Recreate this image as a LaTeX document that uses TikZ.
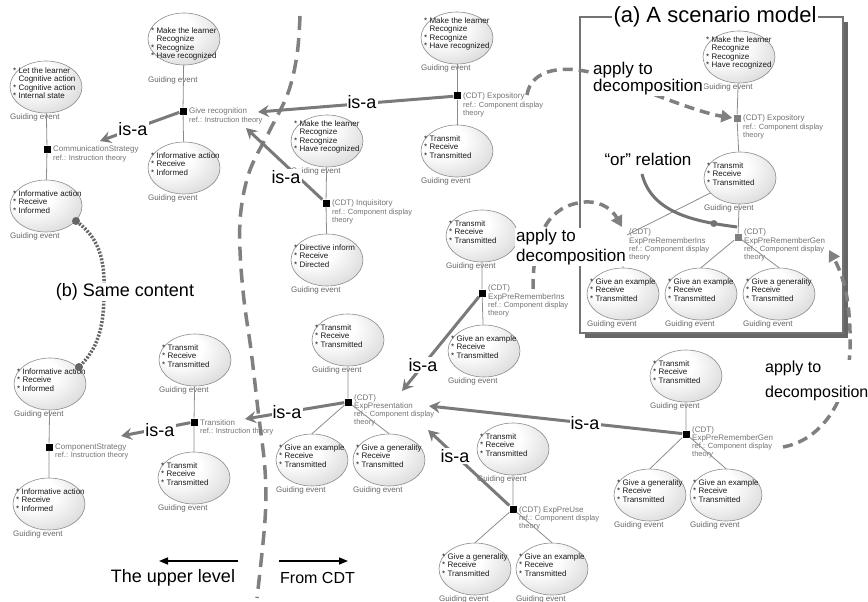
\documentclass[tikz,border=0pt]{standalone}
\usepackage{fontspec}
\setmainfont{Liberation Sans}
\usetikzlibrary{arrows.meta,calc,shapes.geometric}
\colorlet{evtdark}{black!23}
\pgfdeclareradialshading{evtshade}{\pgfpoint{-14bp}{14bp}}{color(0bp)=(white); color(16bp)=(white); color(50bp)=(evtdark); color(80bp)=(evtdark)}
\newcommand\reff{\fontsize{7.5}{8}\selectfont}
\newcommand\mkevt[4]{%
  \node[evtell] (#1) at (#2,#3) {};
  \node[evttxt,anchor=west] (#1t) at ($(#1.center)+(-33,-4)$) {#4};
  \node[guid,anchor=west] (#1g) at ($(#1.center)+(-36,30)$) {Guiding event};}
\newcommand\mksq[6]{%
  \node[#2] (#1) at (#3,#4) {};
  \node[sqlab,anchor=north west] (#1l) at ($(#1.center)+(6,#5)$) {#6};}
\newcommand\trtxt{* Transmit\\* Receive\\* Transmitted}
\newcommand\extxt{* Give an example\\* Receive\\* Transmitted}
\newcommand\gentxt{* Give a generality\\* Receive\\* Transmitted}
\newcommand\inftxt{* Informative action\\* Receive\\* Informed}
\newcommand\mktxt{* Make the learner\\\phantom{* }Recognize\\* Recognize\\* Have recognized}
\newcommand\cdtref{{\reff ref.: Component display}\\{\reff theory}}
\newcommand\itref{{\reff ref.: Instruction theory}}
\begin{document}
\begin{tikzpicture}[x=1pt,y=-1pt,
  evtell/.style={ellipse, draw=black!45, line width=0.6pt, shade, shading=evtshade, minimum width=72pt, minimum height=52pt, inner sep=0pt},
  evttxt/.style={font=\fontsize{8}{8.3}\selectfont, text=black!90, align=left, inner sep=0pt},
  guid/.style={font=\fontsize{8}{9}\selectfont, text=black!60, inner sep=0pt},
  sqb/.style={fill=black, minimum size=7pt, inner sep=0pt},
  sqg/.style={fill=black!50, minimum size=7pt, inner sep=0pt},
  sqlab/.style={font=\fontsize{8}{8.2}\selectfont, text=black!55, align=left, inner sep=0pt},
  conn/.style={draw=black!45, line width=0.8pt},
  isa/.style={draw=black!52, line width=3pt, -{Stealth[length=11pt,width=12pt,inset=4pt]}},
  biglab/.style={font=\fontsize{18}{20}\selectfont, inner sep=1pt, fill=white},
  applab/.style={inner sep=1pt, fill=white, align=left, anchor=west},
  dsh/.style={draw=black!50, line width=3.5pt, dash pattern=on 10pt off 6pt},
  dsharr/.style={dsh, -{Triangle[length=11pt,width=12pt]}},
  divline/.style={draw=black!50, line width=3.5pt, dash pattern=on 14pt off 8pt},
  dotline/.style={draw=black!60, line width=3.5pt, dash pattern=on 2pt off 1.5pt},
  dotend/.style={circle, fill=black!60, minimum size=8pt, inner sep=0pt},
  orline/.style={draw=black!55, line width=3pt},
  blkarr/.style={draw=black, line width=1.6pt, -{Triangle[length=9pt,width=7pt]}},
]
\useasboundingbox (0,0) rectangle (868,602);

% divider
\draw[divline] plot[smooth, tension=0.6] coordinates {(300,16) (297,55) (288,93) (270,130) (250,170) (241,210) (240,250) (244,300) (251,350) (258,410) (265,470) (265,520) (257,598)};

% scenario box
\fill[black!60] (585,22) rectangle (848,338);
\filldraw[fill=white, draw=black!55, line width=1.5pt] (580,17) rectangle (843,333);
\node[font=\fontsize{22}{24}\selectfont, fill=white, inner sep=2pt] (title) at (715,17) {(a) A scenario model};

% events
\mkevt{E1}{46}{87}{* Let the learner\\\phantom{* }Cognitive action\\* Cognitive action\\* Internal state}
\mkevt{E2}{46}{206}{\inftxt}
\node[evtell] (E3) at (184,39) {};
\node[evttxt,anchor=west] (E3t) at ($(E3.center)+(-33,5)$) {\mktxt};
\node[guid,anchor=west] (E3g) at ($(E3.center)+(-36,41)$) {Guiding event};
\mkevt{E4}{184}{168}{\inftxt}
\mkevt{E5}{327}{141}{\mktxt}
\mkevt{E6}{327}{260}{* Directive inform\\* Receive\\* Directed}
\mkevt{E7}{457}{38}{\mktxt}
\mkevt{E8}{457}{151}{\trtxt}
\mkevt{E9}{482}{236}{\trtxt}
\mkevt{E10}{484}{351}{\extxt}
\mkevt{E11}{348}{340}{\trtxt}
\mkevt{E12}{312}{460}{\extxt}
\mkevt{E13}{389}{460}{\gentxt}
\mkevt{E14}{686}{376}{\trtxt}
\mkevt{E15}{650}{495}{\gentxt}
\mkevt{E16}{726}{495}{\extxt}
\mkevt{E17}{513}{449}{\trtxt}
\mkevt{E18}{475}{569}{\gentxt}
\mkevt{E19}{552}{569}{\extxt}
\mkevt{E20}{195}{360}{\trtxt}
\mkevt{E21}{194}{478}{\trtxt}
\mkevt{E22}{50}{384}{\inftxt}
\mkevt{E23}{49}{504}{\inftxt}
\mkevt{E24}{739}{57}{\mktxt}
\mkevt{E25}{740}{178}{\trtxt}
\mkevt{E26}{623}{294}{\extxt}
\mkevt{E27}{701}{294}{\extxt}
\mkevt{E28}{779}{294}{\gentxt}

% squares with labels
\mksq{S1}{sqb}{47}{149}{-3}{CommunicationStrategy\\\itref}
\mksq{S3}{sqb}{183}{111}{-3}{Give recognition\\\itref}
\mksq{S5}{sqb}{326}{203}{-3}{(CDT) Inquisitory\\\cdtref}
\mksq{S7}{sqb}{457}{96}{-3}{(CDT) Expository\\\cdtref}
\mksq{S9}{sqb}{482}{293}{-8}{(CDT)\\ExpPreRememberIns\\\cdtref}
\mksq{S11}{sqb}{348}{402}{-8}{(CDT)\\ExpPresentation\\\cdtref}
\mksq{S14}{sqb}{686}{434}{-8}{(CDT)\\ExpPreRememberGen\\\cdtref}
\mksq{S17}{sqb}{513}{509}{-3}{(CDT) ExpPreUse\\\cdtref}
\mksq{S20}{sqb}{194}{422}{-3}{Transition\\\itref}
\mksq{S22}{sqb}{49}{447}{-3}{ComponentStrategy\\\itref}
\mksq{S24}{sqg}{737}{118}{-3}{(CDT) Expository\\\cdtref}
\mksq{S25}{sqg}{623}{237}{-8}{(CDT)\\ExpPreRememberIns\\\cdtref}
\mksq{S26}{sqg}{738}{237}{-8}{(CDT)\\ExpPreRememberGen\\\cdtref}

% thin connectors
\draw[conn] (E1) -- (S1) -- (E2);
\draw[conn] (E3) -- (S3) -- (E4);
\draw[conn] (E5) -- (S5) -- (E6);
\draw[conn] (E7) -- (S7) -- (E8);
\draw[conn] (E9) -- (S9) -- (E10);
\draw[conn] (E11) -- (S11) (S11) -- (E12.north) (S11) -- (E13.north);
\draw[conn] (E14) -- (S14) (S14) -- (E15.north) (S14) -- (E16.north);
\draw[conn] (E17) -- (S17) (S17) -- (E18.north) (S17) -- (E19.north);
\draw[conn] (E20) -- (S20) -- (E21);
\draw[conn] (E22) -- (S22) -- (E23);
\draw[conn] (E24) -- (S24) -- (E25);
\draw[conn] (E25) -- (S25) -- (E26);
\draw[conn] (E25) -- (S26) (S26) -- (E27.north) (S26) -- (E28.north);

% is-a arrows
\coordinate (t1) at (100,141); \draw[isa] (S3) -- (t1);
\coordinate (t2) at (258,112); \draw[isa] (S7) -- (t2);
\coordinate (t3) at (246,128); \draw[isa] (S5) -- (t3);
\coordinate (t4) at (245,419); \draw[isa] (S11) -- (t4);
\coordinate (t5) at (121,436); \draw[isa] (S20) -- (t5);
\coordinate (t6) at (402,391); \draw[isa] (S9) -- (t6);
\coordinate (t7) at (429,406); \draw[isa] (S14) -- (t7);
\coordinate (t8) at (428,430); \draw[isa] (S17) -- (t8);
\node[biglab] (i1) at (133,129) {is-a};
\node[biglab] (i2) at (362,102) {is-a};
\node[biglab] (i3) at (286,177) {is-a};
\node[biglab] (i4) at (287,412) {is-a};
\node[biglab] (i5) at (160,430) {is-a};
\node[biglab] (i6) at (423,365) {is-a};
\node[biglab] (i7) at (585,423) {is-a};
\node[biglab] (i8) at (455,456) {is-a};

% apply to decomposition arrows
\coordinate (p1) at (527,95);
\draw[dsharr, shorten >=1pt] (p1) .. controls (531,68) and (566,64) .. (600,75) .. controls (640,88) and (695,112) .. (S24.west);
\node[applab, font=\fontsize{17}{17}\selectfont] (ap1) at (592,79) {apply to\\decomposition};
\coordinate (p2) at (533,289); \coordinate (p2e) at (622,227);
\draw[dsharr] (p2) .. controls (533,235) and (548,205) .. (585,202) .. controls (603,201) and (613,211) .. (p2e);
\node[applab, font=\fontsize{17}{20}\selectfont] (ap2) at (515,247) {apply to\\decomposition};
\coordinate (p3) at (783,447); \coordinate (p3e) at (829,250);
\draw[dsharr] (p3) .. controls (822,440) and (848,400) .. (850,350) .. controls (851,310) and (846,280) .. (p3e);
\node[applab, font=\fontsize{16}{25}\selectfont] (ap3) at (764,381) {apply to\\decomposition};

% or relation
\node[font=\fontsize{17}{17}\selectfont, inner sep=1pt] (orl) at (648,159) {“or” relation};
\coordinate (o1) at (642,174); \coordinate (o2) at (737,227);
\draw[orline] (o1) .. controls (652,215) and (700,222) .. (o2) node[pos=0.8, dotend, fill=black!55, minimum size=7pt] (ordot) {};

% same content
\node[dotend] (d1) at (76,221) {};
\node[dotend] (d2) at (79,367) {};
\draw[dotline] (d1) .. controls (100,240) and (105,262) .. (104,292) .. controls (104,322) and (100,345) .. (d2);
\node[biglab] (sc) at (125,292) {(b) Same content};

% bottom arrows
\coordinate (u1) at (238,561); \coordinate (u2) at (159,561);
\draw[blkarr] (u1) -- (u2);
\node[font=\fontsize{18}{20}\selectfont, inner sep=0pt] (ul) at (173,578) {The upper level};
\coordinate (f1) at (279,561); \coordinate (f2) at (348,561);
\draw[blkarr] (f1) -- (f2);
\node[font=\fontsize{16}{18}\selectfont, inner sep=0pt, anchor=west] (fc) at (280,578) {From CDT};
\end{tikzpicture}
\end{document}
